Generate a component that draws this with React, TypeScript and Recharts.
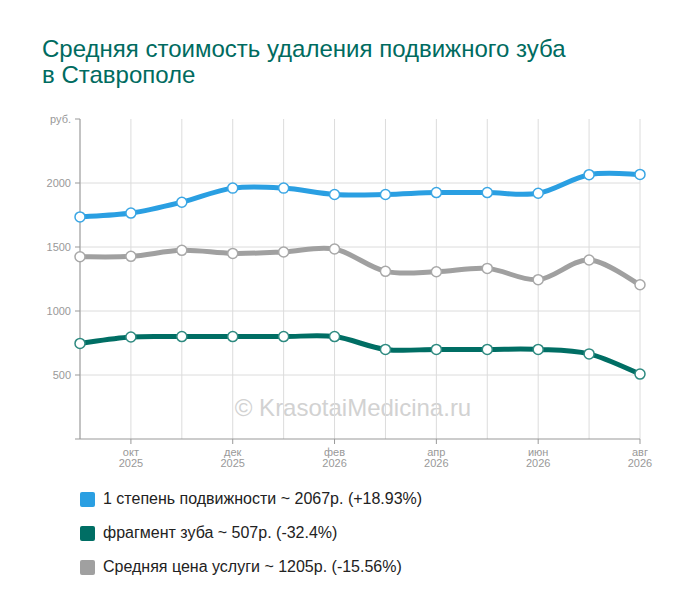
import { LineChart, Line, XAxis, YAxis, CartesianGrid } from 'recharts';

// monthly values, sep 2025 .. aug 2026
const months = ['сен', 'окт', 'ноя', 'дек', 'янв', 'фев', 'мар', 'апр', 'май', 'июн', 'июл', 'авг'];
const years = ['2025', '2025', '2025', '2025', '2026', '2026', '2026', '2026', '2026', '2026', '2026', '2026'];
const mobility = [1735, 1765, 1850, 1960, 1960, 1910, 1910, 1925, 1925, 1920, 2065, 2067];
const fragment = [747, 797, 800, 800, 800, 800, 700, 700, 700, 700, 665, 507];
const average = [1424, 1427, 1474, 1450, 1461, 1484, 1310, 1307, 1333, 1245, 1398, 1205];
const yTicks = [0, 500, 1000, 1500, 2000, 2500];

const series = [
  { key: 'mobility', name: '1 степень подвижности ~ 2067р. (+18.93%)', color: '#2a9fe2', dot: '#3aa6e4' },
  { key: 'fragment', name: 'фрагмент зуба ~ 507р. (-32.4%)', color: '#006e64', dot: '#2e8a80' },
  { key: 'average', name: 'Средняя цена услуги ~ 1205р. (-15.56%)', color: '#a0a0a0', dot: '#a8a8a8' },
];

const data = months.map((m, i) => ({
  month: m,
  year: years[i],
  mobility: mobility[i],
  fragment: fragment[i],
  average: average[i],
}));

// catmull-rom style curve so lines overshoot a bit between equal points
const smoothCurve = (context: any) => {
  let pts: number[][] = [];
  return {
    areaStart() {},
    areaEnd() {},
    lineStart() {
      pts = [];
    },
    point(x: number, y: number) {
      pts.push([+x, +y]);
    },
    lineEnd() {
      if (!pts.length) return;
      context.moveTo(pts[0][0], pts[0][1]);
      for (let i = 0; i < pts.length - 1; i++) {
        const p0 = pts[i - 1] || pts[i];
        const p1 = pts[i];
        const p2 = pts[i + 1];
        const p3 = pts[i + 2] || p2;
        context.bezierCurveTo(
          p1[0] + (p2[0] - p0[0]) / 6,
          p1[1] + (p2[1] - p0[1]) / 6,
          p2[0] - (p3[0] - p1[0]) / 6,
          p2[1] - (p3[1] - p1[1]) / 6,
          p2[0],
          p2[1]
        );
      }
    },
  };
};

const font = '"Liberation Sans", Arial, sans-serif';

function MonthTick(props: any) {
  const { x, y, payload, index } = props;
  if (index % 2 === 0) return null;
  return (
    <g>
      <line x1={x} y1={y} x2={x} y2={y + 5} stroke="#999" />
      <text x={x} y={y + 17} textAnchor="middle" fontSize={11} fill="#999" fontFamily={font}>
        {payload.value}
      </text>
      <text x={x} y={y + 28} textAnchor="middle" fontSize={11} fill="#999" fontFamily={font}>
        {years[index]}
      </text>
    </g>
  );
}

export default function App() {
  return (
    <div style={{ position: 'absolute', left: 0, top: 0, width: 700, height: 616, background: '#fff', fontFamily: font }}>
      <div style={{ position: 'absolute', left: 42, top: 36, fontSize: 24, lineHeight: '26px', color: '#006b60' }}>
        Средняя стоимость удаления подвижного зуба
        <br />
        в Ставрополе
      </div>

      <div style={{ position: 'absolute', left: 0, top: 394, width: 706, textAlign: 'center', fontSize: 24, color: '#d2d2d2' }}>
        © KrasotaiMedicina.ru
      </div>

      <div style={{ position: 'absolute', left: 0, top: 0 }}>
        <LineChart width={700} height={616} data={data} margin={{ top: 119, right: 60, bottom: 146, left: 20 }}>
          <CartesianGrid stroke="#dcdcdc" horizontalValues={[500, 1000, 1500, 2000]} />
          <XAxis
            dataKey="month"
            interval={0}
            height={31}
            stroke="#999"
            tickLine={false}
            tickSize={0}
            tickMargin={0}
            tick={<MonthTick />}
          />
          <YAxis
            width={60}
            domain={[0, 2500]}
            ticks={yTicks}
            interval={0}
            stroke="#999"
            tickSize={5}
            tickMargin={4}
            tick={{ fontSize: 11, fill: '#999', fontFamily: font }}
            tickFormatter={(v: number) => (v === 0 ? '' : v === 2500 ? 'руб.' : String(v))}
          />
          {series.map((s) => (
            <Line
              key={s.key}
              dataKey={s.key}
              type={smoothCurve as any}
              stroke={s.color}
              strokeWidth={5}
              dot={{ r: 5, fill: '#fff', stroke: s.dot, strokeWidth: 1.5 }}
              activeDot={false}
              isAnimationActive={false}
            />
          ))}
        </LineChart>
      </div>

      <div style={{ position: 'absolute', left: 80, top: 489 }}>
        {series.map((s) => (
          <div key={s.key} style={{ display: 'flex', alignItems: 'center', height: 20, marginBottom: 14 }}>
            <div style={{ width: 15, height: 15, borderRadius: 2, background: s.color, marginRight: 8 }} />
            <span style={{ fontSize: 16, color: '#222' }}>{s.name}</span>
          </div>
        ))}
      </div>
    </div>
  );
}
